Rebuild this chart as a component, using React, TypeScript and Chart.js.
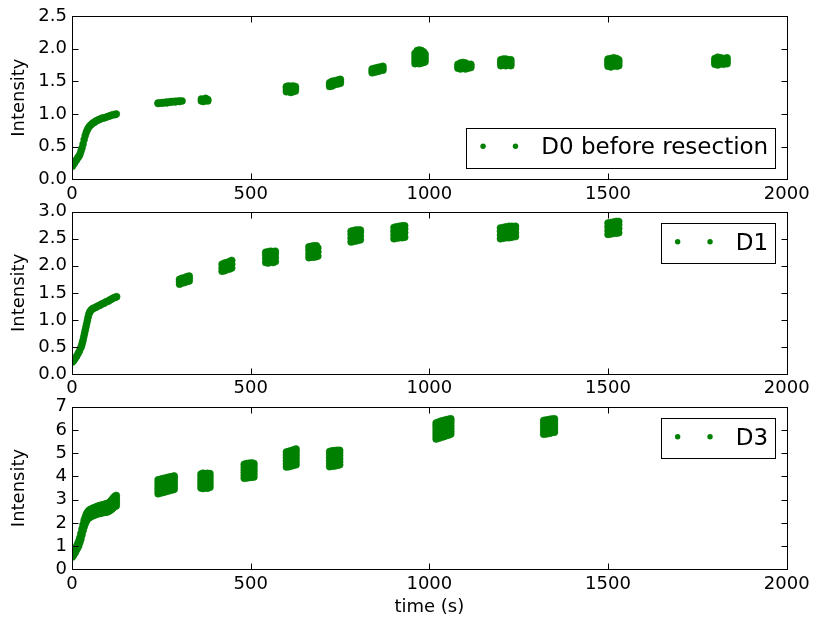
import React, { useEffect, useRef } from "react";
import { Chart, registerables } from "chart.js";

Chart.register(...registerables);

// ---------------- data ----------------
const xTicks = [0, 500, 1000, 1500, 2000];
const seriesLabels = ["D0 before resection", "D1", "D3"];
const xAxisTitle = "time (s)";
const yAxisTitle = "Intensity";

// Each entry: [time (s), intensities recorded at that time]
const d0Rise: [number, number[]][] = [
  [1, [0.2]], [4, [0.23]], [7, [0.25]], [10, [0.28]], [13, [0.3]], [16, [0.33]], [19, [0.35]],
  [22, [0.38]], [25, [0.43]], [28, [0.48]], [31, [0.54]], [34, [0.61]], [37, [0.67]], [40, [0.72]],
  [43, [0.76]], [46, [0.79]], [50, [0.82]], [54, [0.84]], [58, [0.86]], [62, [0.87]], [66, [0.89]],
  [70, [0.9]], [74, [0.91]], [78, [0.92]], [82, [0.93]], [86, [0.94]], [90, [0.94]], [95, [0.95]],
  [100, [0.96]], [105, [0.97]], [110, [0.98]], [115, [0.99]], [120, [0.99]], [124, [1.0]],
];
const d0Bursts: [number, number[]][] = [
  [241, [1.16, 1.17]], [247, [1.17]], [253, [1.165, 1.175]], [259, [1.175]], [265, [1.17, 1.185]],
  [271, [1.18]], [277, [1.18, 1.19]], [283, [1.19]], [289, [1.185, 1.195]], [295, [1.195]],
  [301, [1.19, 1.2]], [308, [1.2]],
  [362, [1.2, 1.23]], [368, [1.19, 1.22]], [374, [1.21, 1.24]], [380, [1.2, 1.22]],
  [600, [1.34, 1.37, 1.4, 1.42]], [606, [1.35, 1.38, 1.41, 1.43]], [612, [1.33, 1.36, 1.39, 1.42]],
  [618, [1.34, 1.37, 1.4, 1.43]], [625, [1.35, 1.38, 1.4, 1.42]],
  [721, [1.42, 1.45, 1.48]], [728, [1.43, 1.47, 1.5]], [736, [1.45, 1.48, 1.51]],
  [744, [1.46, 1.49, 1.52]], [751, [1.47, 1.5, 1.53]],
  [840, [1.63, 1.66, 1.69]], [847, [1.64, 1.67, 1.7]], [855, [1.65, 1.68, 1.71]],
  [862, [1.66, 1.69, 1.72]], [870, [1.67, 1.7, 1.73]],
  [960, [1.77, 1.81, 1.85, 1.89, 1.93]], [966, [1.78, 1.82, 1.86, 1.9, 1.94, 1.97]],
  [972, [1.77, 1.81, 1.85, 1.89, 1.93, 1.98]], [978, [1.78, 1.82, 1.86, 1.9, 1.94, 1.97]],
  [984, [1.79, 1.83, 1.87, 1.91, 1.95]], [988, [1.8, 1.84, 1.88, 1.92]],
  [1080, [1.7, 1.73, 1.76]], [1087, [1.69, 1.72, 1.75, 1.78]], [1094, [1.7, 1.73, 1.76, 1.79]],
  [1101, [1.69, 1.72, 1.75, 1.78]], [1108, [1.7, 1.73, 1.76]], [1116, [1.71, 1.74, 1.76]],
  [1200, [1.74, 1.77, 1.8, 1.83]], [1207, [1.75, 1.78, 1.81, 1.84]], [1214, [1.74, 1.77, 1.8, 1.84]],
  [1221, [1.75, 1.78, 1.81, 1.83]], [1228, [1.74, 1.77, 1.8, 1.83]],
  [1500, [1.73, 1.76, 1.79, 1.82, 1.84]], [1508, [1.72, 1.75, 1.78, 1.81, 1.85]],
  [1516, [1.74, 1.77, 1.8, 1.83, 1.86]], [1524, [1.73, 1.76, 1.79, 1.82, 1.85]],
  [1530, [1.74, 1.77, 1.8, 1.83]],
  [1799, [1.76, 1.79, 1.82, 1.85]], [1807, [1.75, 1.78, 1.81, 1.84, 1.87]],
  [1815, [1.77, 1.8, 1.83, 1.86]], [1823, [1.76, 1.79, 1.82, 1.85]], [1833, [1.77, 1.8, 1.83, 1.86]],
];

const d1Rise: [number, number[]][] = [
  [1, [0.22]], [5, [0.25]], [9, [0.29]], [13, [0.33]], [17, [0.38]], [21, [0.43]], [25, [0.49]],
  [27, [0.53]], [29, [0.58]], [31, [0.63]], [33, [0.69]], [35, [0.75]], [37, [0.81]], [39, [0.87]],
  [41, [0.93]], [43, [0.99]], [45, [1.05]], [47, [1.1]], [49, [1.14]], [52, [1.17]], [55, [1.19]],
  [58, [1.21]], [62, [1.22]], [66, [1.23]], [70, [1.25]], [74, [1.26]], [78, [1.27]], [82, [1.29]],
  [86, [1.3]], [90, [1.31]], [94, [1.33]], [98, [1.34]], [102, [1.35]], [106, [1.37]], [110, [1.38]],
  [114, [1.4]], [118, [1.41]], [122, [1.42]], [125, [1.43]],
];
const d1Bursts: [number, number[]][] = [
  [301, [1.66, 1.71, 1.75]], [308, [1.68, 1.73, 1.77]], [315, [1.69, 1.75, 1.78]],
  [322, [1.71, 1.76, 1.8]], [328, [1.72, 1.77, 1.81]],
  [420, [1.9, 1.96, 2.03]], [427, [1.91, 1.98, 2.05]], [434, [1.93, 2.0, 2.06]],
  [441, [1.94, 2.02, 2.08]], [447, [1.96, 2.03, 2.1]],
  [542, [2.06, 2.13, 2.2, 2.25]], [549, [2.05, 2.12, 2.19, 2.26]], [556, [2.07, 2.14, 2.21, 2.27]],
  [563, [2.06, 2.13, 2.2, 2.26]], [569, [2.08, 2.15, 2.22, 2.27]],
  [663, [2.15, 2.22, 2.29, 2.35]], [670, [2.16, 2.24, 2.31, 2.36]], [677, [2.16, 2.23, 2.3, 2.37]],
  [684, [2.17, 2.25, 2.32, 2.37]], [688, [2.18, 2.26, 2.33]],
  [781, [2.44, 2.51, 2.58, 2.64]], [787, [2.45, 2.53, 2.6, 2.65]], [794, [2.46, 2.52, 2.59, 2.66]],
  [801, [2.47, 2.54, 2.61, 2.66]], [807, [2.48, 2.55, 2.62, 2.66]],
  [901, [2.5, 2.57, 2.64, 2.71]], [908, [2.51, 2.59, 2.66, 2.72]], [916, [2.52, 2.58, 2.65, 2.73]],
  [924, [2.52, 2.6, 2.67, 2.74]], [931, [2.53, 2.61, 2.68, 2.74]],
  [1199, [2.5, 2.57, 2.64, 2.7]], [1207, [2.51, 2.58, 2.65, 2.71]], [1215, [2.52, 2.59, 2.66, 2.72]],
  [1223, [2.52, 2.6, 2.67, 2.73]], [1231, [2.53, 2.6, 2.67, 2.73]], [1241, [2.54, 2.61, 2.68, 2.73]],
  [1500, [2.58, 2.65, 2.72, 2.79]], [1508, [2.59, 2.66, 2.74, 2.8]], [1516, [2.6, 2.67, 2.75, 2.81]],
  [1523, [2.6, 2.68, 2.75, 2.82]], [1530, [2.61, 2.69, 2.76, 2.82]],
];

const d3Rise: [number, number[]][] = [
  [1, [0.53, 0.63]], [4, [0.6, 0.72]], [7, [0.68, 0.8]], [10, [0.75, 0.89]], [13, [0.85, 0.99]],
  [16, [0.93, 1.1]], [19, [1.02, 1.12, 1.22]], [22, [1.16, 1.26, 1.36]], [25, [1.3, 1.42, 1.54]],
  [28, [1.49, 1.61, 1.73]], [31, [1.67, 1.8, 1.93]], [34, [1.83, 1.97, 2.11]], [37, [1.96, 2.1, 2.24]],
  [40, [2.07, 2.22, 2.37]], [43, [2.15, 2.3, 2.45]], [46, [2.21, 2.36, 2.51]], [49, [2.23, 2.39, 2.55]],
  [52, [2.26, 2.42, 2.58]], [56, [2.29, 2.45, 2.61]], [60, [2.32, 2.48, 2.64]], [64, [2.34, 2.5, 2.66]],
  [68, [2.37, 2.53, 2.69]], [72, [2.39, 2.55, 2.71]], [76, [2.4, 2.57, 2.74]], [80, [2.41, 2.58, 2.75]],
  [84, [2.43, 2.6, 2.77]], [88, [2.44, 2.61, 2.78]], [92, [2.46, 2.63, 2.8]], [96, [2.46, 2.64, 2.82]],
  [100, [2.48, 2.66, 2.84]], [104, [2.51, 2.69, 2.87]], [108, [2.55, 2.74, 2.93]],
  [112, [2.6, 2.8, 3.0]], [116, [2.66, 2.87, 3.08]], [120, [2.7, 2.81, 2.92, 3.03, 3.14]],
  [124, [2.74, 2.85, 2.96, 3.07, 3.18]],
];
const d3Bursts: [number, number[]][] = [
  [241, [3.25, 3.37, 3.49, 3.61, 3.73, 3.85]], [248, [3.28, 3.4, 3.52, 3.64, 3.76, 3.88]],
  [255, [3.31, 3.43, 3.55, 3.67, 3.79, 3.91]], [262, [3.34, 3.46, 3.58, 3.7, 3.82, 3.93]],
  [269, [3.37, 3.49, 3.61, 3.73, 3.85, 3.96]], [276, [3.4, 3.52, 3.64, 3.76, 3.88, 3.98]],
  [283, [3.43, 3.55, 3.67, 3.79, 3.91, 4.0]], [286, [3.45, 3.57, 3.69, 3.81, 3.93, 4.02]],
  [361, [3.5, 3.62, 3.74, 3.86, 3.98, 4.1]], [367, [3.48, 3.6, 3.72, 3.84, 3.96, 4.08, 4.14]],
  [373, [3.51, 3.63, 3.75, 3.87, 3.99, 4.11]], [379, [3.49, 3.61, 3.73, 3.85, 3.97, 4.09, 4.13]],
  [386, [3.53, 3.65, 3.77, 3.89, 4.01, 4.12]],
  [482, [3.92, 4.04, 4.16, 4.28, 4.4, 4.52]], [489, [3.93, 4.05, 4.17, 4.3, 4.42, 4.55]],
  [496, [3.95, 4.07, 4.19, 4.32, 4.44, 4.57]], [503, [3.96, 4.08, 4.21, 4.33, 4.46, 4.58]],
  [509, [3.97, 4.1, 4.22, 4.34, 4.46, 4.56]],
  [600, [4.4, 4.53, 4.66, 4.79, 4.92, 5.05]], [607, [4.42, 4.55, 4.68, 4.82, 4.95, 5.08]],
  [614, [4.45, 4.58, 4.72, 4.85, 4.98, 5.11]], [621, [4.48, 4.61, 4.75, 4.89, 5.02, 5.15]],
  [627, [4.5, 4.64, 4.78, 4.92, 5.06, 5.18]],
  [721, [4.42, 4.55, 4.68, 4.81, 4.94, 5.07]], [728, [4.44, 4.57, 4.7, 4.84, 4.97, 5.1]],
  [735, [4.45, 4.58, 4.72, 4.86, 4.99, 5.11]], [742, [4.47, 4.6, 4.74, 4.87, 5.0, 5.12]],
  [749, [4.5, 4.63, 4.76, 4.89, 5.01, 5.12]],
  [1019, [5.61, 5.73, 5.85, 5.97, 6.09, 6.2, 6.3]], [1026, [5.64, 5.76, 5.88, 6.0, 6.12, 6.24, 6.34]],
  [1033, [5.68, 5.8, 5.92, 6.04, 6.16, 6.28, 6.38]], [1040, [5.71, 5.83, 5.95, 6.07, 6.19, 6.31, 6.41]],
  [1047, [5.75, 5.87, 5.99, 6.11, 6.23, 6.35, 6.44]], [1054, [5.78, 5.9, 6.02, 6.14, 6.26, 6.38, 6.46]],
  [1060, [5.82, 5.94, 6.06, 6.18, 6.3, 6.4, 6.48]],
  [1320, [5.81, 5.93, 6.05, 6.17, 6.29, 6.41]], [1327, [5.83, 5.95, 6.07, 6.19, 6.31, 6.43]],
  [1335, [5.85, 5.97, 6.09, 6.21, 6.33, 6.45]], [1342, [5.88, 6.0, 6.12, 6.24, 6.36, 6.47]],
  [1350, [5.9, 6.02, 6.14, 6.26, 6.38, 6.48]],
];

const d0YTicks = [0, 0.5, 1.0, 1.5, 2.0, 2.5];
const d1YTicks = [0, 0.5, 1.0, 1.5, 2.0, 2.5, 3.0];
const d3YTicks = [0, 1, 2, 3, 4, 5, 6, 7];

// ---------------- styling / layout ----------------
const GREEN = "#008000";
const FONT = "'DejaVu Sans', 'Liberation Sans', sans-serif";
const W = 815;
const AREA_LEFT = 72;
const AREA_RIGHT = 786.7;

type Panel = {
  label: string;
  groups: [number, number[]][][];
  yTicks: number[];
  decimals: number;
  canvasTop: number;
  canvasHeight: number;
  areaTop: number;
  areaBottom: number;
  legendLower: boolean;
  showXTitle: boolean;
};

const panels: Panel[] = [
  { label: seriesLabels[0], groups: [d0Rise, d0Bursts], yTicks: d0YTicks, decimals: 1,
    canvasTop: 0, canvasHeight: 215, areaTop: 16, areaBottom: 179.3, legendLower: true, showXTitle: false },
  { label: seriesLabels[1], groups: [d1Rise, d1Bursts], yTicks: d1YTicks, decimals: 1,
    canvasTop: 190, canvasHeight: 215, areaTop: 211.7, areaBottom: 374, legendLower: false, showXTitle: false },
  { label: seriesLabels[2], groups: [d3Rise, d3Bursts], yTicks: d3YTicks, decimals: 0,
    canvasTop: 385, canvasHeight: 240, areaTop: 406.7, areaBottom: 569.3, legendLower: false, showXTitle: true },
];

function toPoints(groups: [number, number[]][][]) {
  const pts: { x: number; y: number }[] = [];
  groups.forEach((g) => g.forEach(([t, vs]) => vs.forEach((v) => pts.push({ x: t, y: v }))));
  return pts;
}

function makeFramePlugin(label: string, legendLower: boolean) {
  return {
    id: "mplFrame",
    afterDraw(chart: any) {
      const { ctx, chartArea: a, scales } = chart;
      const L = Math.round(a.left) + 0.5;
      const R = Math.round(a.right) + 0.5;
      const T = Math.round(a.top) + 0.5;
      const B = Math.round(a.bottom) + 0.5;
      ctx.save();
      ctx.strokeStyle = "#000";
      ctx.lineWidth = 1;
      const tl = 6;
      ctx.beginPath();
      scales.x.ticks.forEach((t: any) => {
        const px = Math.round(scales.x.getPixelForValue(t.value)) + 0.5;
        ctx.moveTo(px, B); ctx.lineTo(px, B - tl);
        ctx.moveTo(px, T); ctx.lineTo(px, T + tl);
      });
      scales.y.ticks.forEach((t: any) => {
        const py = Math.round(scales.y.getPixelForValue(t.value)) + 0.5;
        ctx.moveTo(L, py); ctx.lineTo(L + tl, py);
        ctx.moveTo(R, py); ctx.lineTo(R - tl, py);
      });
      ctx.stroke();
      ctx.strokeRect(L, T, R - L, B - T);

      // legend (matplotlib style, two marker points)
      ctx.font = `23px ${FONT}`;
      const tw = ctx.measureText(label).width;
      const h = 40;
      const w = 75 + tw + 7;
      const bx = a.right - 11.5 - w;
      const by = legendLower ? a.bottom - 11.7 - h : a.top + 11.5;
      const rx = Math.round(bx) + 0.5;
      const ry = Math.round(by) + 0.5;
      ctx.fillStyle = "#fff";
      ctx.fillRect(rx, ry, Math.round(w), h);
      ctx.strokeRect(rx, ry, Math.round(w), h);
      ctx.fillStyle = GREEN;
      [16.8, 49.2].forEach((dx) => {
        ctx.beginPath();
        ctx.arc(bx + dx, by + 18.6, 2.7, 0, Math.PI * 2);
        ctx.fill();
      });
      ctx.fillStyle = "#000";
      ctx.textAlign = "left";
      ctx.textBaseline = "alphabetic";
      ctx.fillText(label, bx + 75, by + 26.7);
      ctx.restore();
    },
  };
}

export default function App() {
  const r0 = useRef<HTMLCanvasElement>(null);
  const r1 = useRef<HTMLCanvasElement>(null);
  const r2 = useRef<HTMLCanvasElement>(null);
  const refs = [r0, r1, r2];

  useEffect(() => {
    const charts = panels.map((p, i) => {
      const canvas = refs[i].current!;
      const padTop = p.areaTop - p.canvasTop;
      const xHeight = p.canvasTop + p.canvasHeight - p.areaBottom;
      const yMax = p.yTicks[p.yTicks.length - 1];
      const yStep = p.yTicks[1] - p.yTicks[0];
      return new Chart(canvas, {
        type: "scatter",
        data: {
          datasets: [
            {
              label: p.label,
              data: toPoints(p.groups),
              pointRadius: 3.5,
              pointHoverRadius: 3.5,
              pointBackgroundColor: GREEN,
              pointBorderColor: GREEN,
              pointBorderWidth: 0.5,
              showLine: false,
              clip: 0,
            } as any,
          ],
        },
        options: {
          responsive: false,
          animation: false,
          devicePixelRatio: 1,
          events: [],
          layout: { padding: { top: padTop, right: W - AREA_RIGHT, left: 0, bottom: 0 } },
          plugins: { legend: { display: false }, tooltip: { enabled: false } },
          scales: {
            x: {
              type: "linear",
              position: "bottom",
              min: xTicks[0],
              max: xTicks[xTicks.length - 1],
              grid: { display: false, drawTicks: false },
              border: { display: false },
              ticks: {
                stepSize: xTicks[1] - xTicks[0],
                autoSkip: false,
                maxRotation: 0,
                padding: 4,
                color: "#000",
                font: { family: FONT, size: 18 },
                callback: (v: any) => String(v),
              },
              title: {
                display: p.showXTitle,
                text: xAxisTitle,
                color: "#000",
                font: { family: FONT, size: 18 },
                padding: { top: 0, bottom: 7 },
              },
              afterFit: (s: any) => { s.height = xHeight; },
            },
            y: {
              type: "linear",
              position: "left",
              min: 0,
              max: yMax,
              grid: { display: false, drawTicks: false },
              border: { display: false },
              ticks: {
                stepSize: yStep,
                autoSkip: false,
                padding: 5,
                color: "#000",
                font: { family: FONT, size: 18 },
                callback: (v: any) => Number(v).toFixed(p.decimals),
              },
              title: {
                display: true,
                text: yAxisTitle,
                color: "#000",
                font: { family: FONT, size: 18 },
                padding: { top: 9, bottom: 0 },
              },
              afterFit: (s: any) => { s.width = AREA_LEFT; },
            },
          },
        } as any,
        plugins: [makeFramePlugin(p.label, p.legendLower)],
      });
    });
    return () => charts.forEach((c) => c.destroy());
  }, []);

  return (
    <div style={{ position: "absolute", left: 0, top: 0, width: W, height: 625, background: "#fff" }}>
      {panels.map((p, i) => (
        <canvas
          key={i}
          ref={refs[i]}
          width={W}
          height={p.canvasHeight}
          style={{ position: "absolute", left: 0, top: p.canvasTop, width: W, height: p.canvasHeight, display: "block" }}
        />
      ))}
    </div>
  );
}
